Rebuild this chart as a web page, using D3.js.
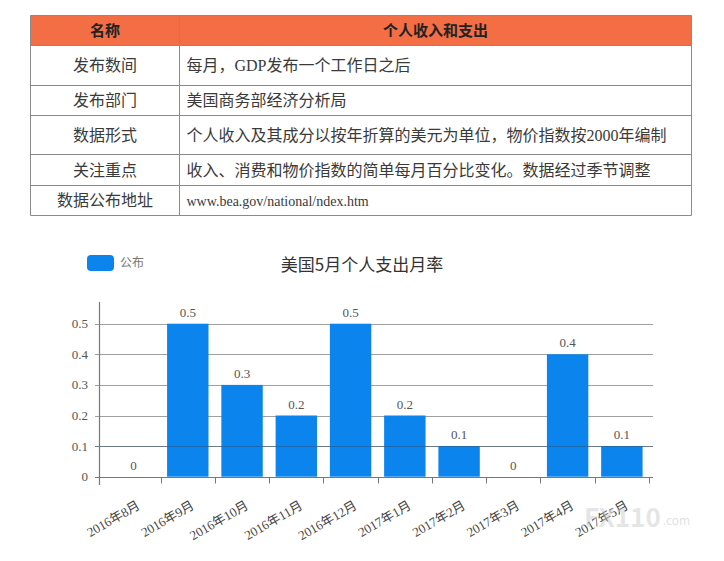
<!DOCTYPE html>
<html><head><meta charset="utf-8">
<script src="https://cdn.jsdelivr.net/npm/d3@7/dist/d3.min.js"></script>
<style>
html,body{margin:0;padding:0;background:#fff;}
svg{display:block;}
</style></head>
<body>
<svg id="c" width="724" height="561"></svg>
<script>
// ---- data ----
const tableHeader = ["名称", "个人收入和支出"];
const tableNames = ["发布数间", "发布部门", "数据形式", "关注重点", "数据公布地址"];
const tableValues = [
  "每月，GDP发布一个工作日之后",
  "美国商务部经济分析局",
  "个人收入及其成分以按年折算的美元为单位，物价指数按2000年编制",
  "收入、消费和物价指数的简单每月百分比变化。数据经过季节调整",
  "www.bea.gov/national/ndex.htm"
];
const categories = ["2016年8月","2016年9月","2016年10月","2016年11月","2016年12月","2017年1月","2017年2月","2017年3月","2017年4月","2017年5月"];
const values = [0, 0.5, 0.3, 0.2, 0.5, 0.2, 0.1, 0, 0.4, 0.1];
const yTicks = [0, 0.1, 0.2, 0.3, 0.4, 0.5];
const chartTitle = "美国5月个人支出月率";
const legendLabel = "公布";

const svg = d3.select("#c");
const serif = "'Liberation Serif','DejaVu Serif','Noto Sans CJK SC',serif";
const sans = "'Noto Sans CJK SC','Noto Sans',sans-serif";

// ---- table ----
const tX0 = 30.5, tX1 = 179.5, tX2 = 691.5;
const rowEdges = [15.5, 45.5, 85.5, 115.5, 154.5, 185.5, 215.5];
const tg = svg.append("g");
tg.append("rect").attr("x", tX0).attr("y", rowEdges[0]).attr("width", tX2 - tX0).attr("height", rowEdges[1] - rowEdges[0])
  .attr("fill", "#F36D45");
rowEdges.forEach((y) => {
  tg.append("line").attr("x1", tX0).attr("x2", tX2).attr("y1", y).attr("y2", y).attr("stroke", "#8a8a8a").attr("stroke-width", 1);
});
[tX0, tX1, tX2].forEach(x => {
  tg.append("line").attr("x1", x).attr("x2", x).attr("y1", rowEdges[0]).attr("y2", rowEdges[6]).attr("stroke", "#8a8a8a").attr("stroke-width", 1);
});
tg.append("text").attr("x", (tX0 + tX1) / 2).attr("y", (rowEdges[0] + rowEdges[1]) / 2).attr("dy", "0.36em")
  .attr("text-anchor", "middle").attr("font-family", sans).attr("font-weight", "bold").attr("font-size", 15).attr("fill", "#222").text(tableHeader[0]);
tg.append("text").attr("x", (tX1 + tX2) / 2).attr("y", (rowEdges[0] + rowEdges[1]) / 2).attr("dy", "0.36em")
  .attr("text-anchor", "middle").attr("font-family", sans).attr("font-weight", "bold").attr("font-size", 15).attr("fill", "#222").text(tableHeader[1]);
tableNames.forEach((n, i) => {
  const cy = (rowEdges[i + 1] + rowEdges[i + 2]) / 2;
  tg.append("text").attr("x", (tX0 + tX1) / 2).attr("y", cy).attr("dy", "0.36em").attr("text-anchor", "middle")
    .attr("font-family", serif).attr("font-size", 16).attr("fill", "#3a3a3a").text(n);
  tg.append("text").attr("x", tX1 + 7).attr("y", cy).attr("dy", "0.36em").attr("text-anchor", "start")
    .attr("font-family", serif).attr("font-size", i === 4 ? 14 : 16).attr("fill", "#3a3a3a").text(tableValues[i]);
});

// ---- chart ----
const x = d3.scaleBand().domain(categories).range([106.4, 649]).paddingInner(0.237).paddingOuter(0.1185);
const y = d3.scaleLinear().domain([0, 0.5]).range([476.7, 323.7]);
const g = svg.append("g");

// gridlines
g.selectAll("line.grid").data(yTicks.slice(1)).join("line").attr("class", "grid")
  .attr("x1", 95).attr("x2", 653).attr("y1", d => Math.round(y(d)) + 0.5).attr("y2", d => Math.round(y(d)) + 0.5)
  .attr("stroke", "#a0a0a0").attr("stroke-width", 1);

// bars
g.selectAll("rect.bar").data(values).join("rect").attr("class", "bar")
  .attr("x", (d, i) => x(categories[i])).attr("width", x.bandwidth())
  .attr("y", d => y(d)).attr("height", d => y(0) - y(d))
  .attr("fill", "#0B84EE");

// 0.1 line showing through bars
g.append("line").attr("x1", 95).attr("x2", 653).attr("y1", Math.round(y(0.1)) + 0.5).attr("y2", Math.round(y(0.1)) + 0.5)
  .attr("stroke", "#2a4a6a").attr("stroke-opacity", 0.45).attr("stroke-width", 1);

// x axis line & ticks
const y0 = Math.round(y(0)) + 0.5;
g.append("line").attr("x1", 95).attr("x2", 653).attr("y1", y0).attr("y2", y0).attr("stroke", "#777").attr("stroke-width", 1.2);
const step = x.step();
const bounds = categories.map(c => x(c) + x.bandwidth() + (step - x.bandwidth()) / 2);
g.selectAll("line.xt").data(bounds).join("line").attr("class", "xt")
  .attr("x1", d => Math.round(d) + 0.5).attr("x2", d => Math.round(d) + 0.5).attr("y1", y0).attr("y2", y0 + 6)
  .attr("stroke", "#777").attr("stroke-width", 1);
// y axis line
g.append("line").attr("x1", 99.5).attr("x2", 99.5).attr("y1", 302).attr("y2", 485).attr("stroke", "#777").attr("stroke-width", 1.2);

// y tick labels
g.selectAll("text.yl").data(yTicks).join("text").attr("class", "yl")
  .attr("x", 88).attr("y", d => y(d)).attr("dy", "0.35em").attr("text-anchor", "end")
  .attr("font-family", serif).attr("font-size", 13).attr("fill", "#555").text(d => d === 0 ? "0" : d3.format(".1f")(d));

// value labels
g.selectAll("text.vl").data(values).join("text").attr("class", "vl")
  .attr("x", (d, i) => x(categories[i]) + x.bandwidth() / 2).attr("y", d => y(d) - 7)
  .attr("text-anchor", "middle").attr("font-family", serif).attr("font-size", 13).attr("fill", "#555")
  .text(d => d === 0 ? "0" : d3.format(".1f")(d));

// x labels
g.selectAll("text.xl").data(categories).join("text").attr("class", "xl")
  .attr("transform", d => `translate(${x(d) + x.bandwidth() / 2 + 5},${504}) rotate(-30)`)
  .attr("dy", "0.35em").attr("text-anchor", "end")
  .attr("font-family", serif).attr("font-size", 13).attr("fill", "#444").text(d => d);

// legend
svg.append("rect").attr("x", 87).attr("y", 255).attr("width", 27).attr("height", 16).attr("rx", 4).attr("fill", "#0B84EE");
svg.append("text").attr("x", 120).attr("y", 263).attr("dy", "0.35em").attr("font-family", sans).attr("font-size", 12).attr("fill", "#777").text(legendLabel);

// title
svg.append("text").attr("x", 362).attr("y", 265).attr("dy", "0.35em").attr("text-anchor", "middle")
  .attr("font-family", sans).attr("font-size", 17).attr("fill", "#333").text(chartTitle);

// watermark
const wm = svg.append("text").attr("x", 584).attr("y", 527).attr("font-family", sans).attr("font-weight", "bold").attr("font-size", 26)
  .attr("fill", "#ccc").attr("fill-opacity", 0.5).text("FX110");
const wmEnd = 584 + wm.node().getComputedTextLength() + 2;
svg.append("text").attr("x", wmEnd).attr("y", 525).attr("font-family", sans).attr("font-size", 12)
  .attr("fill", "#ccc").attr("fill-opacity", 0.6).text(".com");
</script>
</body></html>
